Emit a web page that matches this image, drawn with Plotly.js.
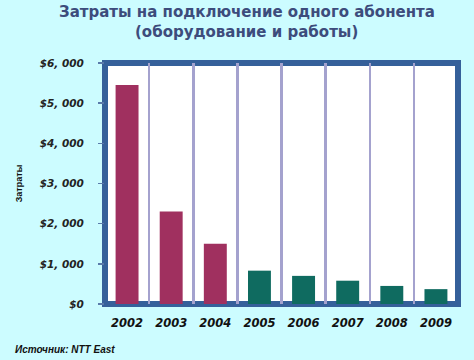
<!DOCTYPE html>
<html>
<head>
<meta charset="utf-8">
<script src="https://cdn.plot.ly/plotly-3.0.1.min.js"></script>
<style>html,body{margin:0;padding:0;background:#CCFCFF;}#chart{width:474px;height:360px;}</style>
</head>
<body>
<div id="chart"></div>
<script>
var years = ["2002","2003","2004","2005","2006","2007","2008","2009"];
var costs = [5450, 2300, 1500, 830, 700, 580, 450, 370];
var barColors = ["#A0305F","#A0305F","#A0305F","#0F6B60","#0F6B60","#0F6B60","#0F6B60","#0F6B60"];
var yTickVals = [0, 1000, 2000, 3000, 4000, 5000, 6000];
var yTickText = ["$0", "$1, 000", "$2, 000", "$3, 000", "$4, 000", "$5, 000", "$6, 000"];
var titleLines = ["Затраты на подключение одного абонента", "(оборудование и работы)"];

var trace = {
  type: "bar",
  x: years,
  y: costs,
  width: 0.52,
  marker: {color: barColors, line: {width: 0}},
  hoverinfo: "skip"
};

var fontA = "Liberation Sans, Arial, sans-serif";
var fontV = "DejaVu Sans, Verdana, sans-serif";

var layout = {
  width: 474, height: 360,
  paper_bgcolor: "#CCFCFF",
  plot_bgcolor: "#FFFFFF",
  margin: {l: 105, r: 16, t: 63, b: 56, pad: 0},
  showlegend: false,
  xaxis: {
    type: "category",
    tickson: "boundaries",
    showgrid: true,
    gridcolor: "#A4A2CE",
    gridwidth: 2.5,
    ticks: "",
    ticklabelstandoff: 10,
    showline: false,
    zeroline: false,
    tickfont: {family: fontV, size: 11.5, color: "#111111", style: "italic", weight: "bold"},
    fixedrange: true
  },
  yaxis: {
    range: [0, 6000],
    tickvals: yTickVals,
    ticktext: yTickText,
    showgrid: false,
    zeroline: false,
    ticks: "outside",
    ticklen: 6,
    tickwidth: 1.5,
    tickcolor: "#5A7AAA",
    ticklabelstandoff: 12,
    tickfont: {family: fontV, size: 10.5, color: "#222222", style: "italic", weight: "bold"},
    title: {
      text: "<b>Затраты</b>",
      font: {family: fontA, size: 9, color: "#111111"},
      standoff: 15
    },
    fixedrange: true
  },
  shapes: [{
    type: "rect", xref: "paper", yref: "paper",
    x0: 0, x1: 1, y0: 0, y1: 1,
    line: {color: "#35609A", width: 6},
    fillcolor: "rgba(0,0,0,0)",
    layer: "below"
  }],
  annotations: [{
    xref: "paper", yref: "paper",
    x: 0.402, y: 1.212,
    xanchor: "center", yanchor: "middle",
    showarrow: false,
    text: "<b>" + titleLines[0] + "</b>",
    font: {family: fontV, size: 15, color: "#3D4C7C"}
  }, {
    xref: "paper", yref: "paper",
    x: 0.402, y: 1.129,
    xanchor: "center", yanchor: "middle",
    showarrow: false,
    text: "<b>" + titleLines[1] + "</b>",
    font: {family: fontV, size: 15, color: "#3D4C7C"}
  }, {
    xref: "paper", yref: "paper",
    x: -0.262, y: -0.19,
    xanchor: "left", yanchor: "middle",
    showarrow: false,
    text: "<b><i>Источник: NTT East</i></b>",
    font: {family: fontA, size: 10, color: "#111111"}
  }]
};

Plotly.newPlot("chart", [trace], layout, {staticPlot: true, displayModeBar: false});
</script>
</body>
</html>
